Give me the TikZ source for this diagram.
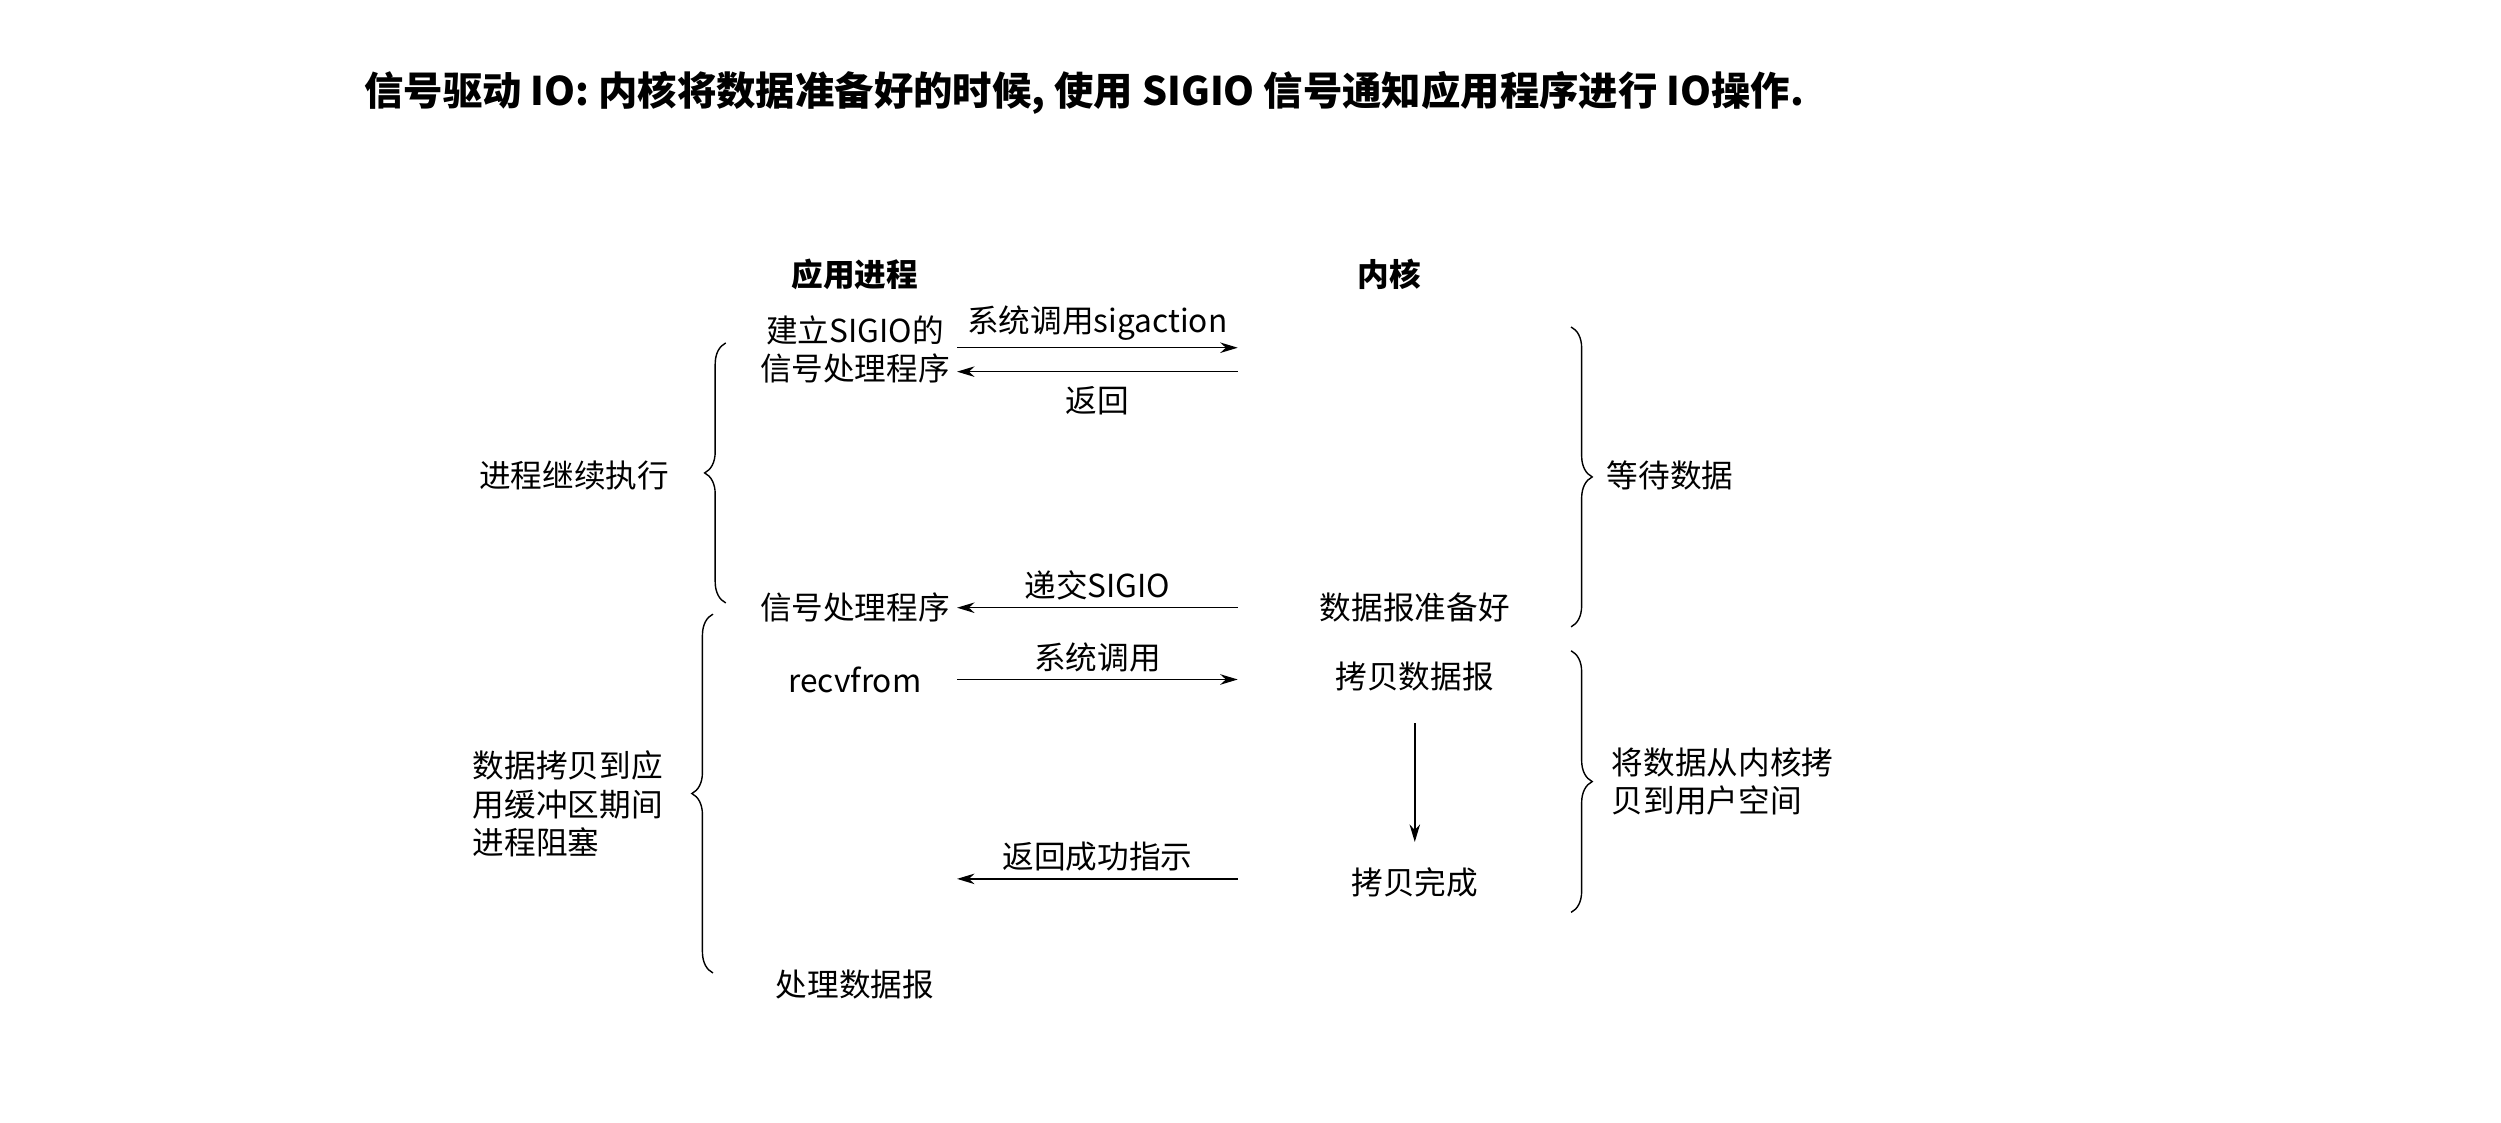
\documentclass[tikz,border=0pt]{standalone}
\usepackage{fontspec}
\setmainfont{Noto Sans CJK SC}
\usetikzlibrary{arrows.meta,positioning,decorations.pathreplacing}

\begin{document}
\begin{tikzpicture}[
    x=0.01595cm, y=-0.01595cm,
    txt/.style={font=\fontsize{9}{11}\selectfont, align=center, inner sep=1pt},
    head/.style={font=\fontsize{9}{11}\selectfont\bfseries},
    msg/.style={-{Stealth[length=5pt,width=3pt]}, thin},
    brace/.style={decorate, decoration={brace, amplitude=6pt}, thin}
]
    \useasboundingbox (0,0) rectangle (1568,703.5);
    \node[anchor=west, font=\fontsize{11.2}{13}\selectfont\bfseries, inner sep=0pt] (title) at (228,58)
        {信号驱动 IO: 内核将数据准备好的时候, 使用 SIGIO 信号通知应用程序进行 IO操作.};

    % column heads
    \node[head] (app) at (536,172) {应用进程};
    \node[head] (kern) at (871,172) {内核};

    % process side
    \node[txt] (setup) at (536,219) {建立SIGIO的\\信号处理程序};
    \node[txt] (handler) at (536,381) {信号处理程序};
    \node[txt] (recv) at (536,426) {recvfrom};
    \node[txt] (proc) at (536,617) {处理数据报};

    % kernel side
    \coordinate (k1) at (776,218);
    \coordinate (k2) at (776,233);
    \coordinate (a1) at (600,218);
    \coordinate (a2) at (600,233);
    \node[txt] (ready) at (887,381) {数据报准备好};
    \node[txt] (copy) at (887,424) {拷贝数据报};
    \node[txt] (done) at (887,553) {拷贝完成};
    \coordinate (k3) at (776,381);
    \coordinate (a3) at (600,381);
    \coordinate (k4) at (776,426);
    \coordinate (a4) at (600,426);
    \coordinate (k5) at (776,551);
    \coordinate (a5) at (600,551);

    % messages
    \draw[msg] (a1) -- node[txt, above=1pt] {系统调用sigaction} (k1);
    \draw[msg] (k2) -- node[txt, below=3pt] {返回} (a2);
    \draw[msg] (k3) -- node[txt, above=1pt] {递交SIGIO} (a3);
    \draw[msg] (a4) -- node[txt, above=1pt] {系统调用} (k4);
    \draw[msg] (k5) -- node[txt, above=1pt] {返回成功指示} (a5);
    \draw[msg] ([yshift=-8pt]copy.south) -- ([yshift=6pt]done.north);

    % braces
    \draw[brace] (455,378) -- (455,215) coordinate[midway] (lb1);
    \draw[brace] (447,610) -- (447,385) coordinate[midway] (lb2);
    \draw[brace] (985,205) -- (985,393) coordinate[midway] (rb1);
    \draw[brace] (985,408) -- (985,572) coordinate[midway] (rb2);
    \node[txt] (cont) at (360,298) {进程继续执行};
    \node[txt, align=left] (block) at (356,504) {数据拷贝到应\\用缓冲区期间\\进程阻塞};
    \node[txt] (wait) at (1047,298) {等待数据};
    \node[txt, align=left] (tocopy) at (1080,490) {将数据从内核拷\\贝到用户空间};
\end{tikzpicture}
\end{document}
